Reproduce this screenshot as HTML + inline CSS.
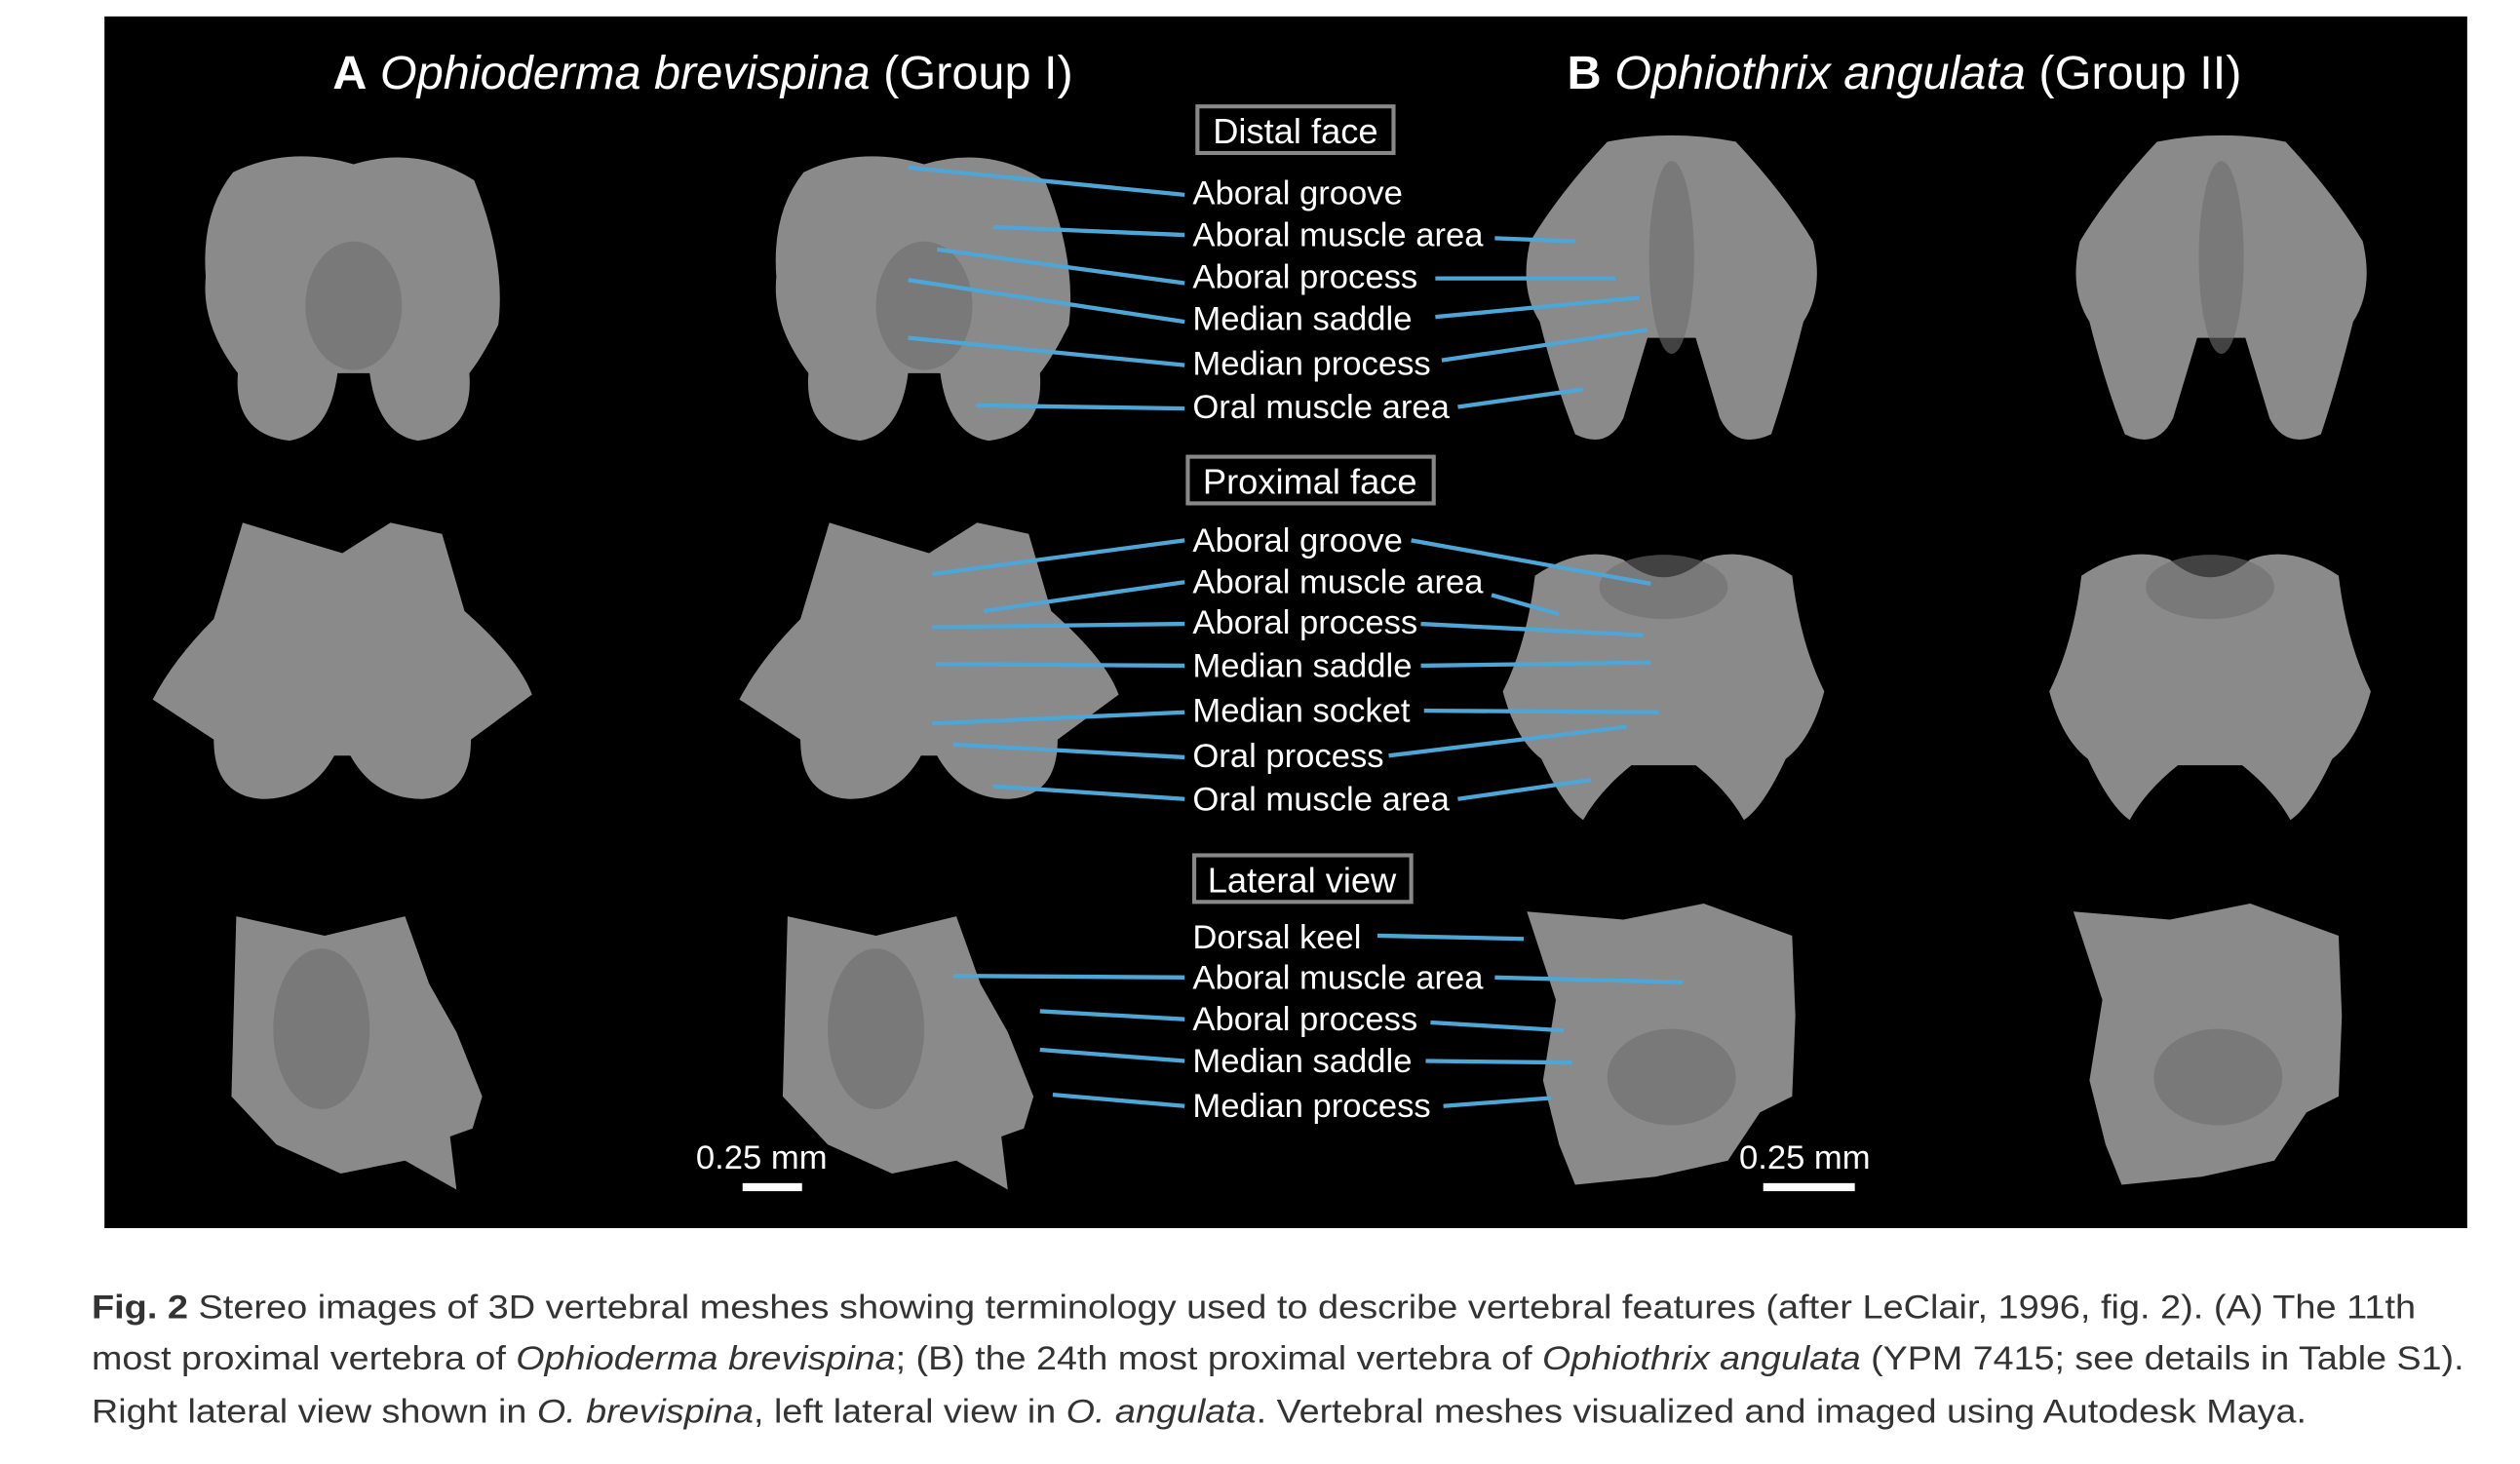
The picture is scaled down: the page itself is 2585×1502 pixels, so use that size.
<!DOCTYPE html>
<html><head><meta charset="utf-8"><style>
html,body{margin:0;padding:0;background:#fff;}
svg{display:block;}
</style></head><body>
<svg width="2585" height="1502" viewBox="0 0 1560 906" xmlns="http://www.w3.org/2000/svg" font-family="Liberation Sans, sans-serif">
<rect x="0" y="0" width="1560" height="906" fill="#fff"/>
<g transform="scale(0.995)">
<rect x="65" y="10" width="1470" height="754" fill="#000"/>
<defs>
<path id="dA" d="M-75,-75 Q-40,-92 0,-80 Q40,-92 75,-70 Q95,-20 90,20 Q80,40 72,50 Q75,88 40,92 Q15,88 10,50 L-10,50 Q-15,88 -40,92 Q-75,88 -72,50 Q-95,20 -92,-10 Q-95,-50 -75,-75Z"/>
<path id="dB" d="M-40,-92 Q0,-100 40,-92 Q70,-60 88,-30 Q95,0 82,20 Q72,60 62,90 Q40,100 30,80 L15,30 L-15,30 L-30,80 Q-40,100 -60,90 Q-72,60 -82,20 Q-95,0 -88,-30 Q-70,-60 -40,-92Z"/>
<path id="pA" d="M-62,-85 L-20,-72 L0,-66 L30,-85 L62,-78 L76,-30 Q110,0 118,22 L80,50 Q80,85 50,87 Q20,87 5,60 L-5,60 Q-20,87 -50,87 Q-80,85 -80,50 L-118,25 Q-105,0 -80,-25 Z"/>
<path id="pB" d="M-80,-62 Q-50,-82 -25,-72 Q0,-50 25,-72 Q50,-82 80,-62 Q85,-20 100,10 Q92,40 76,52 Q62,82 50,90 Q40,72 20,56 L-20,56 Q-40,72 -50,90 Q-62,82 -76,52 Q-92,40 -100,10 Q-85,-20 -80,-62Z"/>
<path id="lA" d="M-75,-82 L-20,-70 L30,-82 L45,-40 L62,-10 L78,30 L72,50 L58,55 L62,88 L30,70 L-10,78 L-50,60 L-78,30 Z"/>
<path id="lB" d="M-90,-85 L-30,-80 L20,-90 L75,-70 L77,-20 L75,30 L55,40 L35,70 L-10,80 L-60,85 L-70,60 L-80,20 L-72,-30 Z"/>
</defs>
<g fill="#8a8a8a">
<use href="#dA" x="220" y="182"/><use href="#dA" x="575" y="182"/>
<use href="#dB" x="1040" y="180"/><use href="#dB" x="1382" y="180"/>
<use href="#pA" x="213" y="410"/><use href="#pA" x="578" y="410"/>
<use href="#pB" x="1035" y="420"/><use href="#pB" x="1375" y="420"/>
<use href="#lA" x="222" y="652"/><use href="#lA" x="565" y="652"/>
<use href="#lB" x="1040" y="652"/><use href="#lB" x="1380" y="652"/>
</g>
<g fill="#6e6e6e" opacity="0.6">
<ellipse cx="220" cy="190" rx="30" ry="40"/><ellipse cx="575" cy="190" rx="30" ry="40"/>
<ellipse cx="1040" cy="160" rx="14" ry="60"/><ellipse cx="1382" cy="160" rx="14" ry="60"/>
<ellipse cx="1035" cy="365" rx="40" ry="20"/><ellipse cx="1375" cy="365" rx="40" ry="20"/>
<ellipse cx="200" cy="640" rx="30" ry="50"/><ellipse cx="545" cy="640" rx="30" ry="50"/>
<ellipse cx="1040" cy="670" rx="40" ry="30"/><ellipse cx="1380" cy="670" rx="40" ry="30"/>
</g>
<g fill="#fff" font-size="29.5">
<text x="207" y="55"><tspan font-weight="bold">A</tspan> <tspan font-style="italic">Ophioderma brevispina</tspan> (Group I)</text>
<text x="975" y="55"><tspan font-weight="bold">B</tspan> <tspan font-style="italic">Ophiothrix angulata</tspan> (Group II)</text>
</g>
<g fill="none" stroke="#888" stroke-width="2.5">
<rect x="745" y="66" width="122" height="29"/>
<rect x="739" y="284" width="153" height="29"/>
<rect x="743" y="532" width="135" height="29"/>
</g>
<g fill="#fff" font-size="21">
<text x="806" y="89" text-anchor="middle" font-size="22">Distal face</text>
<text x="815" y="307" text-anchor="middle" font-size="22">Proximal face</text>
<text x="810" y="555" text-anchor="middle" font-size="22">Lateral view</text>
<text x="742" y="127">Aboral groove</text>
<text x="742" y="153">Aboral muscle area</text>
<text x="742" y="179">Aboral process</text>
<text x="742" y="205">Median saddle</text>
<text x="742" y="233">Median process</text>
<text x="742" y="260">Oral muscle area</text>
<text x="742" y="343">Aboral groove</text>
<text x="742" y="369">Aboral muscle area</text>
<text x="742" y="394">Aboral process</text>
<text x="742" y="421">Median saddle</text>
<text x="742" y="449">Median socket</text>
<text x="742" y="477">Oral process</text>
<text x="742" y="504">Oral muscle area</text>
<text x="742" y="590">Dorsal keel</text>
<text x="742" y="615">Aboral muscle area</text>
<text x="742" y="641">Aboral process</text>
<text x="742" y="667">Median saddle</text>
<text x="742" y="695">Median process</text>
<text x="433" y="727">0.25 mm</text>
<text x="1082" y="727">0.25 mm</text>
</g>
<rect x="462" y="736" width="37" height="5" fill="#fff"/>
<rect x="1097" y="736" width="57" height="5" fill="#fff"/>
<g stroke="#4ea6d6" stroke-width="2.6" fill="none">
<line x1="565" y1="104" x2="737" y2="121"/><line x1="618" y1="141" x2="737" y2="146"/>
<line x1="583" y1="155" x2="737" y2="176"/><line x1="565" y1="174" x2="737" y2="200"/>
<line x1="565" y1="210" x2="737" y2="227"/><line x1="607" y1="252" x2="737" y2="254"/>
<line x1="930" y1="148" x2="980" y2="150"/><line x1="893" y1="173" x2="1005" y2="173"/>
<line x1="893" y1="197" x2="1020" y2="185"/><line x1="897" y1="224" x2="1025" y2="205"/>
<line x1="907" y1="253" x2="985" y2="242"/>
<line x1="580" y1="357" x2="737" y2="336"/><line x1="612" y1="380" x2="737" y2="362"/>
<line x1="580" y1="390" x2="737" y2="388"/><line x1="582" y1="413" x2="737" y2="414"/>
<line x1="580" y1="450" x2="737" y2="443"/><line x1="593" y1="463" x2="737" y2="471"/>
<line x1="618" y1="489" x2="737" y2="497"/>
<line x1="878" y1="336" x2="1027" y2="363"/><line x1="928" y1="370" x2="970" y2="382"/>
<line x1="884" y1="388" x2="1022" y2="395"/><line x1="884" y1="414" x2="1027" y2="412"/>
<line x1="886" y1="442" x2="1032" y2="443"/><line x1="864" y1="470" x2="1012" y2="452"/>
<line x1="907" y1="497" x2="990" y2="485"/>
<line x1="593" y1="607" x2="737" y2="608"/><line x1="647" y1="629" x2="737" y2="634"/>
<line x1="647" y1="653" x2="737" y2="660"/><line x1="655" y1="681" x2="737" y2="688"/>
<line x1="857" y1="582" x2="948" y2="584"/><line x1="930" y1="608" x2="1047" y2="611"/>
<line x1="890" y1="636" x2="973" y2="641"/><line x1="887" y1="660" x2="978" y2="661"/>
<line x1="898" y1="688" x2="965" y2="683"/>
</g>
<g fill="#333" font-size="21">
<text x="57" y="820" textLength="1446" lengthAdjust="spacingAndGlyphs"><tspan font-weight="bold">Fig. 2</tspan>  Stereo images of 3D vertebral meshes showing terminology used to describe vertebral features (after LeClair, 1996, fig. 2). (A) The 11th</text>
<text x="57" y="852" textLength="1476" lengthAdjust="spacingAndGlyphs">most proximal vertebra of <tspan font-style="italic">Ophioderma brevispina</tspan>; (B) the 24th most proximal vertebra of <tspan font-style="italic">Ophiothrix angulata</tspan> (YPM 7415; see details in Table S1).</text>
<text x="57" y="885" textLength="1378" lengthAdjust="spacingAndGlyphs">Right lateral view shown in <tspan font-style="italic">O. brevispina</tspan>, left lateral view in <tspan font-style="italic">O. angulata</tspan>. Vertebral meshes visualized and imaged using Autodesk Maya.</text>
</g>
</g>
</svg>
</body></html>
